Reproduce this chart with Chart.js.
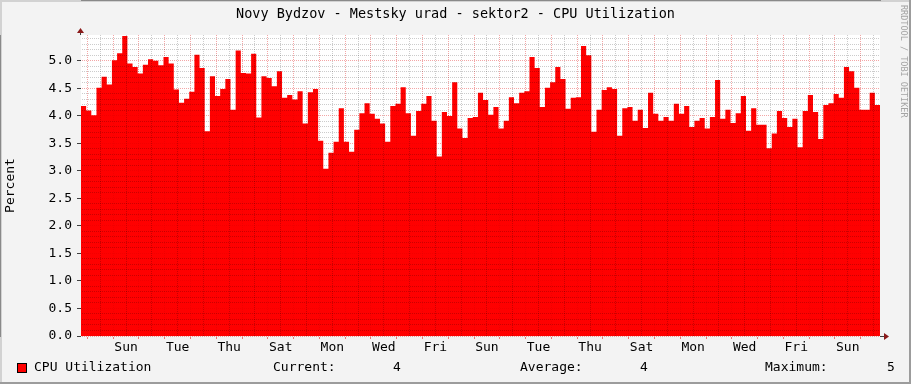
<!DOCTYPE html>
<html>
<head>
<meta charset="utf-8">
<title>CPU Utilization</title>
<script src="https://cdn.jsdelivr.net/npm/chart.js@4/dist/chart.umd.min.js"></script>
<style>
  html, body { margin: 0; padding: 0; background: #f3f3f3; }
  canvas { display: block; }
</style>
</head>
<body>
<canvas id="cpuChart" width="911" height="384"></canvas>
<script>
// sample every 4.8 hours, 31 days in total
const stepHours = 4.8;
const firstDayHour = 6;   // first midnight after the start
const dayLabels = ['Sun', 'Tue', 'Thu', 'Sat', 'Mon', 'Wed', 'Fri', 'Sun',
                   'Tue', 'Thu', 'Sat', 'Mon', 'Wed', 'Fri', 'Sun'];
const cpuValues = [
  4.18, 4.10, 4.01, 4.51, 4.71, 4.57, 5.01, 5.14, 5.45, 4.95,
  4.89, 4.77, 4.93, 5.03, 5.00, 4.92, 5.07, 4.95, 4.48, 4.24,
  4.31, 4.44, 5.11, 4.87, 3.72, 4.72, 4.36, 4.49, 4.67, 4.11,
  5.19, 4.78, 4.77, 5.13, 3.97, 4.72, 4.69, 4.54, 4.81, 4.33,
  4.38, 4.30, 4.45, 3.86, 4.43, 4.49, 3.55, 3.04, 3.33, 3.53,
  4.14, 3.53, 3.35, 3.75, 4.05, 4.23, 4.04, 3.95, 3.86, 3.53,
  4.18, 4.22, 4.52, 4.05, 3.64, 4.09, 4.22, 4.36, 3.91, 3.26,
  4.07, 4.00, 4.61, 3.77, 3.60, 3.96, 3.98, 4.42, 4.29, 4.02,
  4.16, 3.77, 3.91, 4.34, 4.23, 4.42, 4.45, 5.07, 4.87, 4.16,
  4.51, 4.61, 4.89, 4.67, 4.13, 4.33, 4.34, 5.27, 5.10, 3.71,
  4.11, 4.47, 4.52, 4.49, 3.64, 4.14, 4.16, 3.91, 4.11, 3.78,
  4.42, 4.04, 3.91, 3.98, 3.91, 4.22, 4.04, 4.18, 3.80, 3.91,
  3.96, 3.77, 3.98, 4.65, 3.95, 4.11, 3.87, 4.05, 4.36, 3.73,
  4.14, 3.84, 3.84, 3.41, 3.68, 4.09, 3.96, 3.80, 3.95, 3.43,
  4.09, 4.38, 4.07, 3.58, 4.20, 4.23, 4.40, 4.33, 4.89, 4.81,
  4.51, 4.11, 4.11, 4.42, 4.20
];

const monoFont = "'DejaVu Sans Mono', 'Liberation Mono', monospace";
const majorGrid = 'rgba(220, 0, 0, 0.35)';
const minorGrid = 'rgba(0, 0, 0, 0.2)';
const hoursTotal = cpuValues.length * stepHours;

const points = cpuValues.map((v, i) => ({ x: i * stepHours, y: v }));
points.push({ x: hoursTotal, y: cpuValues[cpuValues.length - 1] });

const current = cpuValues[cpuValues.length - 1];
const average = cpuValues.reduce((a, b) => a + b, 0) / cpuValues.length;
const maximum = Math.max(...cpuValues);

// background, frame, arrows, title, legend
const rrdDecor = {
  id: 'rrdDecor',
  beforeDraw(chart) {
    const { ctx, chartArea: a, width, height } = chart;
    ctx.save();
    ctx.fillStyle = '#f3f3f3';
    ctx.fillRect(0, 0, width, height);
    ctx.fillStyle = '#d2d2d2';
    ctx.fillRect(0, 0, width, 2);
    ctx.fillRect(0, 0, 2, height);
    ctx.fillStyle = '#9c9c9c';
    ctx.fillRect(0, height - 2, width, 2);
    ctx.fillRect(width - 2, 0, 2, height);
    ctx.fillStyle = '#ffffff';
    ctx.fillRect(a.left, a.top, a.right - a.left, a.bottom - a.top);
    ctx.restore();
  },
  afterDraw(chart) {
    const { ctx, chartArea: a, width } = chart;
    ctx.save();

    // axis arrows
    ctx.strokeStyle = '#404040';
    ctx.lineWidth = 1;
    ctx.beginPath();
    ctx.moveTo(a.left - 0.5, a.top);
    ctx.lineTo(a.left - 0.5, a.top - 3);
    ctx.moveTo(a.right, a.bottom + 0.5);
    ctx.lineTo(a.right + 4, a.bottom + 0.5);
    ctx.moveTo(a.left - 4, a.bottom + 0.5);
    ctx.lineTo(a.left, a.bottom + 0.5);
    ctx.stroke();
    ctx.fillStyle = '#8b1a1a';
    ctx.beginPath();
    ctx.moveTo(a.left - 0.5, a.top - 7);
    ctx.lineTo(a.left - 4, a.top - 2);
    ctx.lineTo(a.left + 3, a.top - 2);
    ctx.closePath();
    ctx.fill();
    ctx.beginPath();
    ctx.moveTo(a.right + 9, a.bottom + 0.5);
    ctx.lineTo(a.right + 4, a.bottom - 3);
    ctx.lineTo(a.right + 4, a.bottom + 4);
    ctx.closePath();
    ctx.fill();

    // title
    ctx.fillStyle = '#000';
    ctx.font = '13.5px ' + monoFont;
    ctx.textAlign = 'center';
    ctx.textBaseline = 'middle';
    ctx.fillText('Novy Bydzov - Mestsky urad - sektor2 - CPU Utilization', width / 2, 14);

    // legend
    const ds = chart.data.datasets[0];
    ctx.fillStyle = ds.backgroundColor;
    ctx.fillRect(17, 363, 10, 10);
    ctx.strokeStyle = '#000';
    ctx.strokeRect(17.5, 363.5, 9, 9);
    ctx.fillStyle = '#000';
    ctx.font = '13px ' + monoFont;
    ctx.textAlign = 'left';
    ctx.fillText(ds.label, 34, 368);
    ctx.fillText('Current:', 273, 368);
    ctx.fillText(current.toFixed(0), 393, 368);
    ctx.fillText('Average:', 520, 368);
    ctx.fillText(average.toFixed(0), 640, 368);
    ctx.fillText('Maximum:', 765, 368);
    ctx.fillText(maximum.toFixed(0), 887, 368);

    // watermark
    ctx.translate(903, 5);
    ctx.rotate(Math.PI / 2);
    ctx.fillStyle = '#a4a4a4';
    ctx.font = '8.5px ' + monoFont;
    ctx.fillText('RRDTOOL / TOBI OETIKER', 0, 0);
    ctx.restore();
  }
};

const ctx = document.getElementById('cpuChart');

new Chart(ctx, {
  type: 'line',
  data: {
    datasets: [{
      label: 'CPU Utilization',
      data: points,
      stepped: true,
      fill: 'origin',
      backgroundColor: '#ff0000',
      borderColor: '#ff0000',
      borderWidth: 0,
      pointRadius: 0
    }]
  },
  options: {
    responsive: false,
    animation: false,
    events: [],
    layout: { padding: { left: 0, right: 31, top: 35, bottom: 0 } },
    plugins: {
      legend: { display: false },
      title: { display: false },
      tooltip: { enabled: false }
    },
    scales: {
      x: {
        type: 'linear',
        min: 0,
        max: hoursTotal,
        afterBuildTicks: scale => {
          scale.ticks = [];
          for (let h = firstDayHour; h <= hoursTotal; h += 12) scale.ticks.push({ value: h });
        },
        afterFit: scale => { scale.height = 48; },
        ticks: {
          autoSkip: false,
          maxRotation: 0,
          padding: 1,
          color: '#000',
          font: { family: monoFont, size: 13 },
          callback: (v, i) => (i % 4 === 3 ? dayLabels[(i - 3) / 4] : '')
        },
        grid: {
          z: 1,
          color: c => (c.index % 2 === 0 ? majorGrid : minorGrid),
          tickLength: 3,
          tickColor: c => (c.index % 2 === 0 ? 'rgba(220,0,0,0.5)' : 'rgba(0,0,0,0)')
        },
        border: { color: '#404040', width: 1, dash: [1, 1] }
      },
      y: {
        min: 0,
        max: 5.47,
        afterBuildTicks: scale => {
          scale.ticks = [];
          for (let k = 0; k <= 54; k++) scale.ticks.push({ value: k / 10 });
        },
        afterFit: scale => { scale.width = 81; },
        ticks: {
          autoSkip: false,
          padding: 5,
          color: '#000',
          font: { family: monoFont, size: 13 },
          callback: v => (Math.round(v * 10) % 5 === 0 ? v.toFixed(1) : '')
        },
        grid: {
          z: 1,
          color: c => (c.tick && Math.round(c.tick.value * 10) % 5 === 0 ? majorGrid : minorGrid),
          tickLength: 4,
          tickColor: c => (c.tick && Math.round(c.tick.value * 10) % 5 === 0 ? '#404040' : 'rgba(0,0,0,0)')
        },
        border: { color: '#404040', width: 1, dash: [1, 1] },
        title: {
          display: true,
          text: 'Percent',
          color: '#000',
          font: { family: monoFont, size: 13 },
          padding: { top: 3, bottom: 0 }
        }
      }
    }
  },
  plugins: [rrdDecor]
});
</script>
</body>
</html>
